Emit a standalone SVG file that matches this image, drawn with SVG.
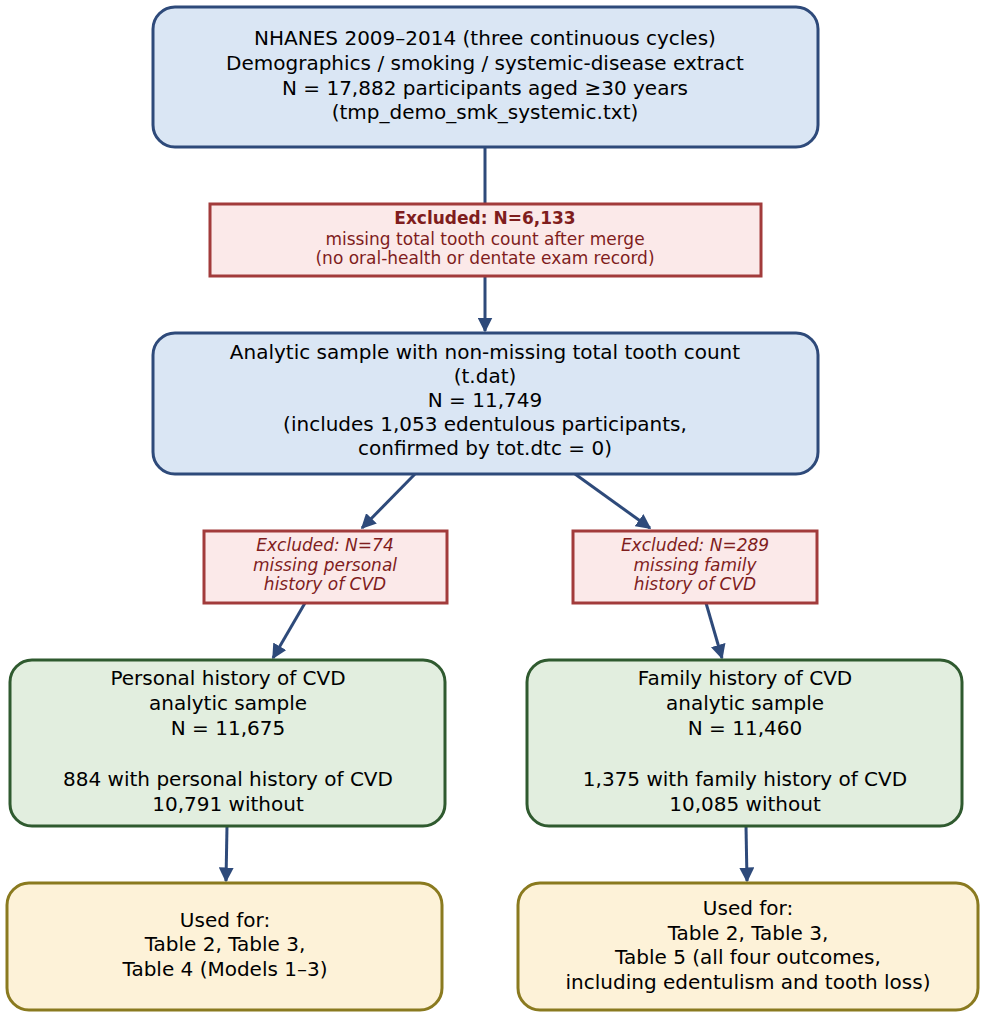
<svg xmlns="http://www.w3.org/2000/svg" width="986" height="1018" viewBox="0 0 986 1018">
<style>
text{font-family:"DejaVu Sans",sans-serif;text-anchor:middle;fill:#000;font-size:20px}
.blue{fill:#dae6f4;stroke:#2e4a7a;stroke-width:3}
.ex{fill:#fbe9e9;stroke:#a23b3b;stroke-width:3}
.gr{fill:#e2eedf;stroke:#2f5a2f;stroke-width:3}
.ye{fill:#fdf2d8;stroke:#8a7a1f;stroke-width:3}
.et{fill:#7f1d1d;font-size:17px}
.ei{fill:#7f1d1d;font-size:17px;font-style:italic}
.c{stroke:#2e4a7a;stroke-width:3;fill:none}
</style>
<defs><marker id="a" viewBox="0 0 10 10" refX="9" refY="5" markerWidth="5" markerHeight="5" orient="auto"><path d="M0,0L10,5L0,10z" fill="#2e4a7a"/></marker></defs>
<g id="connectors">
<line class="c" x1="485" y1="147" x2="485" y2="204"/>
<line class="c" x1="485" y1="276" x2="485" y2="331" marker-end="url(#a)"/>
<line class="c" x1="415" y1="474" x2="362" y2="528" marker-end="url(#a)"/>
<line class="c" x1="575" y1="474" x2="650" y2="528" marker-end="url(#a)"/>
<line class="c" x1="305" y1="603" x2="273" y2="658" marker-end="url(#a)"/>
<line class="c" x1="706" y1="603" x2="722" y2="658" marker-end="url(#a)"/>
<line class="c" x1="227" y1="826" x2="226" y2="881" marker-end="url(#a)"/>
<line class="c" x1="746" y1="826" x2="747" y2="881" marker-end="url(#a)"/>
</g>
<g id="n1"><rect class="blue" x="153" y="7" width="665" height="140" rx="22"/>
<text x="485" y="45">NHANES 2009–2014 (three continuous cycles)</text>
<text x="485" y="70">Demographics / smoking / systemic-disease extract</text>
<text x="485" y="95">N = 17,882 participants aged ≥30 years</text>
<text x="485" y="119">(tmp_demo_smk_systemic.txt)</text></g>
<g id="x1"><rect class="ex" x="210" y="204" width="551" height="72"/>
<text class="et" x="485" y="224" font-weight="bold">Excluded: N=6,133</text>
<text class="et" x="485" y="245">missing total tooth count after merge</text>
<text class="et" x="485" y="264">(no oral-health or dentate exam record)</text></g>
<g id="n2"><rect class="blue" x="153" y="333" width="665" height="141" rx="22"/>
<text x="485" y="359">Analytic sample with non-missing total tooth count</text>
<text x="485" y="383">(t.dat)</text>
<text x="485" y="407">N = 11,749</text>
<text x="485" y="431">(includes 1,053 edentulous participants,</text>
<text x="485" y="455">confirmed by tot.dtc = 0)</text></g>
<g id="x2"><rect class="ex" x="204" y="531" width="243" height="72"/>
<text class="ei" x="325" y="551">Excluded: N=74</text>
<text class="ei" x="325" y="571">missing personal</text>
<text class="ei" x="325" y="590">history of CVD</text></g>
<g id="x3"><rect class="ex" x="573" y="531" width="244" height="72"/>
<text class="ei" x="695" y="551">Excluded: N=289</text>
<text class="ei" x="695" y="571">missing family</text>
<text class="ei" x="695" y="590">history of CVD</text></g>
<g id="g1"><rect class="gr" x="10" y="660" width="435" height="166" rx="22"/>
<text x="228" y="685">Personal history of CVD</text>
<text x="228" y="710">analytic sample</text>
<text x="228" y="735">N = 11,675</text>
<text x="228" y="786">884 with personal history of CVD</text>
<text x="228" y="811">10,791 without</text></g>
<g id="g2"><rect class="gr" x="527" y="660" width="435" height="166" rx="22"/>
<text x="745" y="685">Family history of CVD</text>
<text x="745" y="710">analytic sample</text>
<text x="745" y="735">N = 11,460</text>
<text x="745" y="786">1,375 with family history of CVD</text>
<text x="745" y="811">10,085 without</text></g>
<g id="y1"><rect class="ye" x="7" y="883" width="435" height="127" rx="22"/>
<text x="225" y="927">Used for:</text>
<text x="225" y="951">Table 2, Table 3,</text>
<text x="225" y="976">Table 4 (Models 1–3)</text></g>
<g id="y2"><rect class="ye" x="518" y="883" width="460" height="127" rx="22"/>
<text x="748" y="915">Used for:</text>
<text x="748" y="940">Table 2, Table 3,</text>
<text x="748" y="964">Table 5 (all four outcomes,</text>
<text x="748" y="989">including edentulism and tooth loss)</text></g>
</svg>
